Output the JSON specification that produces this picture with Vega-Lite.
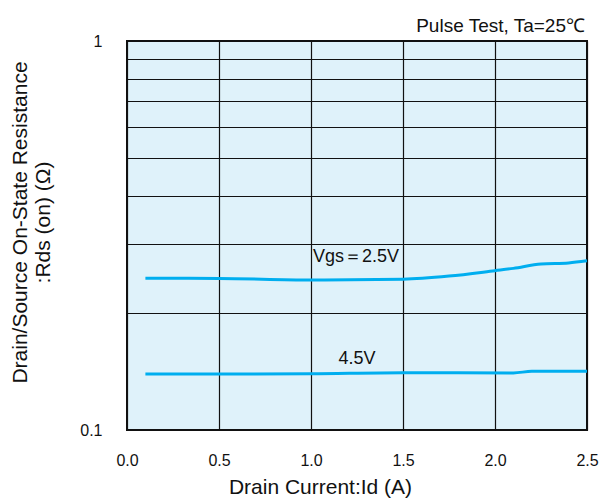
{
  "$schema": "https://vega.github.io/schema/vega-lite/v6.json",
  "width": 460,
  "height": 389,
  "autosize": "none",
  "padding": {"left": 127, "top": 41, "right": 15, "bottom": 70},
  "background": "white",
  "config": {
    "font": "Liberation Sans",
    "view": {"fill": "#dff2fa", "stroke": "#111111", "strokeWidth": 2}
  },
  "datasets": {
    "curves": [
      {"vgs": "2.5V", "id": 0.1, "r": 0.2455},
      {"vgs": "2.5V", "id": 0.5, "r": 0.2452},
      {"vgs": "2.5V", "id": 1.0, "r": 0.2430},
      {"vgs": "2.5V", "id": 1.5, "r": 0.2442},
      {"vgs": "2.5V", "id": 1.75, "r": 0.2487},
      {"vgs": "2.5V", "id": 2.0, "r": 0.2568},
      {"vgs": "2.5V", "id": 2.1, "r": 0.2603},
      {"vgs": "2.5V", "id": 2.25, "r": 0.2672},
      {"vgs": "2.5V", "id": 2.4, "r": 0.2688},
      {"vgs": "2.5V", "id": 2.5, "r": 0.2722},
      {"vgs": "4.5V", "id": 0.1, "r": 0.1393},
      {"vgs": "4.5V", "id": 0.5, "r": 0.1392},
      {"vgs": "4.5V", "id": 1.0, "r": 0.1395},
      {"vgs": "4.5V", "id": 1.5, "r": 0.1404},
      {"vgs": "4.5V", "id": 2.1, "r": 0.1402},
      {"vgs": "4.5V", "id": 2.2, "r": 0.1415},
      {"vgs": "4.5V", "id": 2.5, "r": 0.1415}
    ],
    "labels": [
      {"id": 1.245, "r": 0.279, "text": "Vgs＝2.5V"},
      {"id": 1.25, "r": 0.1525, "text": "4.5V"}
    ],
    "note": [
      {"id": 2.5, "r": 1, "text": "Pulse Test, Ta=25℃"}
    ]
  },
  "layer": [
    {
      "data": {"name": "curves"},
      "mark": {"type": "line", "color": "#00aeef", "strokeWidth": 3, "interpolate": "monotone"},
      "encoding": {
        "x": {
          "field": "id", "type": "quantitative",
          "scale": {"domain": [0, 2.5], "nice": false},
          "axis": {
            "values": [0, 0.5, 1, 1.5, 2, 2.5], "format": ".1f",
            "title": "Drain Current:Id (A)", "titleFontSize": 21, "titleFontWeight": "normal",
            "titleColor": "#111111", "titlePadding": 8, "titleX": 193,
            "labelFontSize": 16, "labelColor": "#111111", "labelPadding": 22,
            "ticks": false, "domain": false,
            "grid": true, "gridColor": "#111111", "gridOpacity": 1, "gridWidth": 1.2,
            "labelFlush": false
          }
        },
        "y": {
          "field": "r", "type": "quantitative",
          "scale": {"type": "log", "domain": [0.1, 1], "nice": false},
          "axis": {
            "values": [0.1, 0.2, 0.3, 0.4, 0.5, 0.6, 0.7, 0.8, 0.9, 1],
            "labelExpr": "datum.value == 1 ? '1' : (datum.value < 0.15 ? '0.1' : '')",
            "title": ["Drain/Source On-State Resistance", ":Rds (on) (Ω)"],
            "titleFontSize": 21, "titleFontWeight": "normal", "titleColor": "#111111",
            "titleLineHeight": 23, "titlePadding": 26, "titleY": 181,
            "labelFontSize": 16, "labelColor": "#111111", "labelPadding": 25,
            "ticks": false, "domain": false,
            "grid": true, "gridColor": "#111111", "gridOpacity": 1, "gridWidth": 1.2
          }
        },
        "detail": {"field": "vgs"}
      }
    },
    {
      "data": {"name": "labels"},
      "mark": {"type": "text", "fontSize": 18, "color": "#111111"},
      "encoding": {
        "x": {"field": "id", "type": "quantitative"},
        "y": {"field": "r", "type": "quantitative"},
        "text": {"field": "text"}
      }
    },
    {
      "data": {"name": "note"},
      "mark": {"type": "text", "fontSize": 19, "color": "#111111", "align": "right", "baseline": "alphabetic", "dy": -9, "dx": -2},
      "encoding": {
        "x": {"field": "id", "type": "quantitative"},
        "y": {"field": "r", "type": "quantitative"},
        "text": {"field": "text"}
      }
    }
  ]
}
